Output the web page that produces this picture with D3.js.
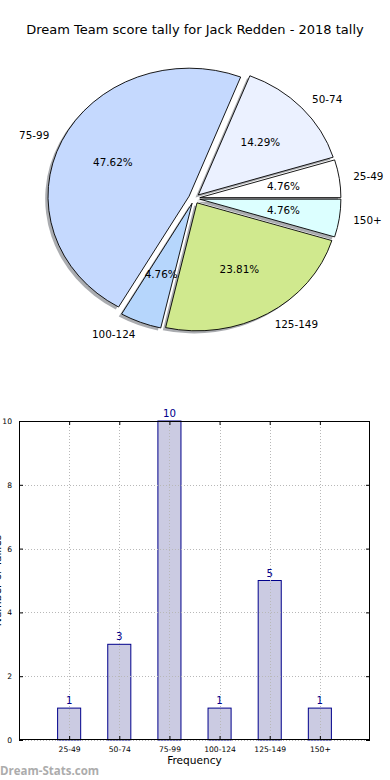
<!DOCTYPE html>
<html>
<head>
<meta charset="utf-8">
<script src="https://cdn.jsdelivr.net/npm/d3@7"></script>
<style>
  html, body { margin: 0; padding: 0; background: #fff; }
  svg { display: block; font-family: "DejaVu Sans", sans-serif; }
</style>
</head>
<body>
<svg id="chart" width="390" height="780"></svg>
<script>
// ---- data ----
const categories = ["25-49", "50-74", "75-99", "100-124", "125-149", "150+"];
const counts = [1, 3, 10, 1, 5, 1];
const sliceColors = ["#ffffff", "#ebf1ff", "#c5d9fe", "#b6d6fc", "#d0e98e", "#dcffff"];
const yTicks = [0, 2, 4, 6, 8, 10];
const titleText = "Dream Team score tally for Jack Redden - 2018 tally";
const xLabelText = "Frequency";
const yLabelText = "Number of Tallies";
const watermarkText = "Dream-Stats.com";

const svg = d3.select("#chart");

// ---- title ----
svg.append("text")
  .attr("x", 195).attr("y", 34)
  .attr("text-anchor", "middle")
  .attr("font-size", 13)
  .attr("fill", "#000")
  .text(titleText);

// ---- pie (matplotlib style: start at 3 o'clock, counter-clockwise, exploded, elliptical) ----
const cx = 194.2, cy = 198.4, rx = 141.1, ry = 128.0;
const explode = 0.04;
const sy = ry / rx;
const total = d3.sum(counts);

const pie = d3.pie().sort(null).value(d => d)
  .startAngle(Math.PI / 2).endAngle(Math.PI / 2 - 2 * Math.PI);
const arcs = pie(counts);
const arcGen = d3.arc().innerRadius(0).outerRadius(rx);

function offsetOf(d, k) {
  const a = (d.startAngle + d.endAngle) / 2;
  return [cx + k * rx * Math.sin(a), cy - k * ry * Math.cos(a)];
}

const pieG = svg.append("g");
pieG.selectAll("path.shadow").data(arcs).enter().append("path")
  .attr("class", "shadow")
  .attr("transform", d => {
    const [px, py] = offsetOf(d, explode);
    return `translate(${px - 0.02 * rx},${py + 0.02 * ry}) scale(1,${sy})`;
  })
  .attr("d", arcGen)
  .attr("fill", "#8e9096")
  .attr("opacity", 0.75);

pieG.selectAll("path.wedge").data(arcs).enter().append("path")
  .attr("class", "wedge")
  .attr("transform", d => {
    const [px, py] = offsetOf(d, explode);
    return `translate(${px},${py}) scale(1,${sy})`;
  })
  .attr("d", arcGen)
  .attr("fill", (d, i) => sliceColors[i])
  .attr("stroke", "#000")
  .attr("stroke-width", 0.9)
  .attr("vector-effect", "non-scaling-stroke");

pieG.selectAll("text.lab").data(arcs).enter().append("text")
  .attr("class", "lab")
  .attr("x", d => offsetOf(d, explode + 1.1)[0])
  .attr("y", d => offsetOf(d, explode + 1.1)[1])
  .attr("dy", "0.35em")
  .attr("text-anchor", d => Math.sin((d.startAngle + d.endAngle) / 2) >= 0 ? "start" : "end")
  .attr("font-size", 10.4)
  .attr("fill", "#000")
  .text((d, i) => categories[i]);

pieG.selectAll("text.pct").data(arcs).enter().append("text")
  .attr("class", "pct")
  .attr("x", d => offsetOf(d, explode + 0.6)[0])
  .attr("y", d => offsetOf(d, explode + 0.6)[1])
  .attr("dy", "0.35em")
  .attr("text-anchor", "middle")
  .attr("font-size", 10.4)
  .attr("fill", "#000")
  .text(d => (100 * d.value / total).toFixed(2) + "%");

// ---- bar chart ----
const pL = 19, pR = 370, pT = 421, pB = 740;
const xs = d3.scaleLinear().domain([0, categories.length + 1]).range([pL, pR]);
const ys = d3.scaleLinear().domain([0, 10]).range([pB, pT]);
const barW = 0.46;

const barG = svg.append("g");

barG.selectAll("rect.bar").data(counts).enter().append("rect")
  .attr("class", "bar")
  .attr("x", (d, i) => xs(i + 1 - barW / 2))
  .attr("y", d => ys(d))
  .attr("width", (d, i) => xs(i + 1 + barW / 2) - xs(i + 1 - barW / 2))
  .attr("height", d => ys(0) - ys(d))
  .attr("fill", "#cbcbe2")
  .attr("stroke", "#00008b")
  .attr("stroke-width", 1);

barG.selectAll("line.vgrid").data(categories).enter().append("line")
  .attr("x1", (d, i) => Math.round(xs(i + 1)) + 0.5)
  .attr("x2", (d, i) => Math.round(xs(i + 1)) + 0.5)
  .attr("y1", pT).attr("y2", pB)
  .attr("stroke", "#b8b8b8").attr("stroke-width", 1)
  .attr("stroke-dasharray", "1,2");
barG.selectAll("line.hgrid").data(yTicks).enter().append("line")
  .attr("x1", pL).attr("x2", pR)
  .attr("y1", d => Math.round(ys(d)) + 0.5)
  .attr("y2", d => Math.round(ys(d)) + 0.5)
  .attr("stroke", "#b8b8b8").attr("stroke-width", 1)
  .attr("stroke-dasharray", "1,2");

barG.selectAll("text.val").data(counts).enter().append("text")
  .attr("x", (d, i) => xs(i + 1))
  .attr("y", d => ys(d) - 4)
  .attr("text-anchor", "middle")
  .attr("font-size", 10.2)
  .attr("fill", "#00008b")
  .text(d => d);

const xAxisB = d3.axisBottom(xs)
  .tickValues(d3.range(1, categories.length + 1))
  .tickFormat(d => categories[d - 1])
  .tickSizeInner(-4).tickSizeOuter(0).tickPadding(7);
const gx = svg.append("g").attr("transform", `translate(0,${pB})`).call(xAxisB);
gx.select(".domain").remove();
gx.selectAll("text").attr("font-size", 7.6).attr("font-family", "DejaVu Sans").attr("fill", "#000");

const xAxisT = d3.axisTop(xs)
  .tickValues(d3.range(1, categories.length + 1))
  .tickFormat("")
  .tickSizeInner(-4).tickSizeOuter(0);
const gxt = svg.append("g").attr("transform", `translate(0,${pT})`).call(xAxisT);
gxt.select(".domain").remove();

const yAxisL = d3.axisLeft(ys).tickValues(yTicks).tickFormat(d3.format("d"))
  .tickSizeInner(-4).tickSizeOuter(0).tickPadding(7);
const gy = svg.append("g").attr("transform", `translate(${pL},0)`).call(yAxisL);
gy.select(".domain").remove();
gy.selectAll("text").attr("font-size", 7.6).attr("font-family", "DejaVu Sans").attr("fill", "#000");

const yAxisR = d3.axisRight(ys).tickValues(yTicks).tickFormat("")
  .tickSizeInner(-4).tickSizeOuter(0);
const gyr = svg.append("g").attr("transform", `translate(${pR},0)`).call(yAxisR);
gyr.select(".domain").remove();

svg.append("rect")
  .attr("x", pL + 0.5).attr("y", pT + 0.5)
  .attr("width", pR - pL - 1).attr("height", pB - pT - 1)
  .attr("fill", "none").attr("stroke", "#000").attr("stroke-width", 1);

svg.append("text")
  .attr("x", (pL + pR) / 2).attr("y", 764)
  .attr("text-anchor", "middle")
  .attr("font-size", 10.6)
  .attr("fill", "#000")
  .text(xLabelText);

// y label: clipped at the left edge, as in the reference
svg.append("text")
  .attr("transform", `translate(0.5,${(pT + pB) / 2}) rotate(-90)`)
  .attr("text-anchor", "middle")
  .attr("font-size", 10.6)
  .attr("fill", "#000")
  .text(yLabelText);

svg.append("text")
  .attr("x", 0).attr("y", 775)
  .attr("font-family", "'Open Sans', sans-serif")
  .attr("font-weight", "bold")
  .attr("font-size", 11.5)
  .attr("fill", "#acacac")
  .text(watermarkText);
</script>
</body>
</html>
